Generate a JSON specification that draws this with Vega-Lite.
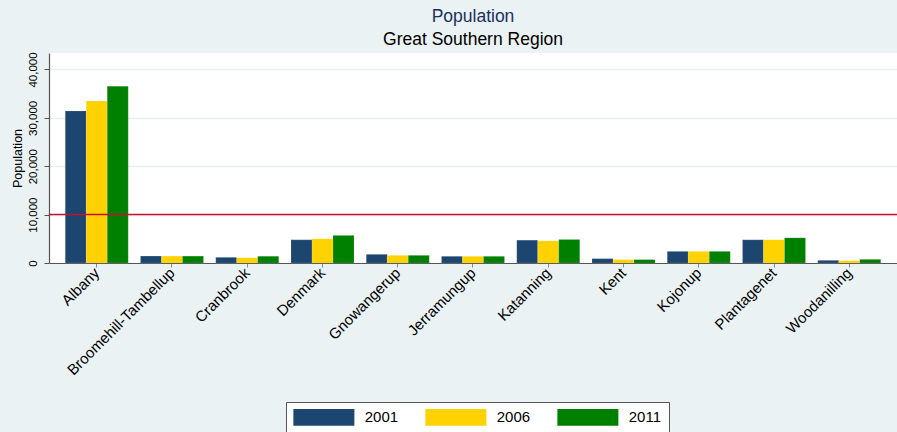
{
  "$schema": "https://vega.github.io/schema/vega-lite/v6.json",
  "width": 848,
  "height": 210,
  "autosize": "none",
  "padding": {"left": 49, "top": 53, "right": 0, "bottom": 169},
  "background": "#eaf2f3",
  "title": {
    "text": "Population",
    "subtitle": "Great Southern Region",
    "anchor": "middle",
    "font": "Liberation Sans",
    "subtitleFont": "Liberation Sans",
    "fontSize": 17.5,
    "subtitleFontSize": 17.5,
    "fontWeight": "normal",
    "color": "#1a2f5e",
    "subtitleColor": "#000000",
    "offset": 3,
    "subtitlePadding": 6
  },
  "config": {
    "font": "Liberation Sans",
    "view": {"fill": "white", "stroke": null}
  },
  "data": {
    "values": [
      {"lga": "Albany", "year": "2001", "pop": 31400},
      {"lga": "Albany", "year": "2006", "pop": 33500},
      {"lga": "Albany", "year": "2011", "pop": 36550},
      {"lga": "Broomehill-Tambellup", "year": "2001", "pop": 1440},
      {"lga": "Broomehill-Tambellup", "year": "2006", "pop": 1420},
      {"lga": "Broomehill-Tambellup", "year": "2011", "pop": 1420},
      {"lga": "Cranbrook", "year": "2001", "pop": 1170},
      {"lga": "Cranbrook", "year": "2006", "pop": 1100},
      {"lga": "Cranbrook", "year": "2011", "pop": 1380},
      {"lga": "Denmark", "year": "2001", "pop": 4800},
      {"lga": "Denmark", "year": "2006", "pop": 5000},
      {"lga": "Denmark", "year": "2011", "pop": 5700},
      {"lga": "Gnowangerup", "year": "2001", "pop": 1790},
      {"lga": "Gnowangerup", "year": "2006", "pop": 1580},
      {"lga": "Gnowangerup", "year": "2011", "pop": 1580},
      {"lga": "Jerramungup", "year": "2001", "pop": 1380},
      {"lga": "Jerramungup", "year": "2006", "pop": 1380},
      {"lga": "Jerramungup", "year": "2011", "pop": 1380},
      {"lga": "Katanning", "year": "2001", "pop": 4720},
      {"lga": "Katanning", "year": "2006", "pop": 4580},
      {"lga": "Katanning", "year": "2011", "pop": 4860},
      {"lga": "Kent", "year": "2001", "pop": 900},
      {"lga": "Kent", "year": "2006", "pop": 700},
      {"lga": "Kent", "year": "2011", "pop": 700},
      {"lga": "Kojonup", "year": "2001", "pop": 2400},
      {"lga": "Kojonup", "year": "2006", "pop": 2400},
      {"lga": "Kojonup", "year": "2011", "pop": 2400},
      {"lga": "Plantagenet", "year": "2001", "pop": 4800},
      {"lga": "Plantagenet", "year": "2006", "pop": 4800},
      {"lga": "Plantagenet", "year": "2011", "pop": 5200},
      {"lga": "Woodanilling", "year": "2001", "pop": 550},
      {"lga": "Woodanilling", "year": "2006", "pop": 480},
      {"lga": "Woodanilling", "year": "2011", "pop": 750}
    ]
  },
  "layer": [
    {
      "mark": {"type": "bar", "stroke": "#ffffff", "strokeWidth": 0.3, "strokeOpacity": 0.4},
      "encoding": {
        "x": {
          "field": "lga",
          "type": "nominal",
          "sort": null,
          "scale": {"paddingInner": 0.163, "paddingOuter": 0.216},
          "axis": {
            "title": null,
            "labelAngle": -45,
            "labelAlign": "right",
            "labelBaseline": "middle",
            "labelFontSize": 15,
            "labelColor": "#000000",
            "labelPadding": 3,
            "tickSize": 4,
            "tickColor": "#888888",
            "domainColor": "#555555",
            "domainWidth": 1.2
          }
        },
        "xOffset": {"field": "year", "type": "nominal"},
        "y": {
          "field": "pop",
          "type": "quantitative",
          "scale": {"domain": [0, 43400], "nice": false, "zero": true},
          "axis": {
            "title": "Population",
            "titleFontSize": 12.5,
            "titleFontWeight": "normal",
            "titleColor": "#000000",
            "titlePadding": 3,
            "values": [0, 10000, 20000, 30000, 40000],
            "format": ",.0f",
            "labelAngle": -90,
            "labelAlign": "center",
            "labelBaseline": "bottom",
            "labelFontSize": 11.5,
            "labelColor": "#000000",
            "labelPadding": 6,
            "tickSize": 5,
            "tickColor": "#555555",
            "domainColor": "#555555",
            "domainWidth": 1.2,
            "grid": true,
            "gridColor": "#e6eff0",
            "gridWidth": 1.5
          }
        },
        "color": {
          "field": "year",
          "type": "nominal",
          "scale": {"domain": ["2001", "2006", "2011"], "range": ["#1c4670", "#ffd200", "#008000"]},
          "legend": {
            "title": null,
            "orient": "none",
            "legendX": 237,
            "legendY": 349,
            "direction": "horizontal",
            "fillColor": "#ffffff",
            "strokeColor": "#555555",
            "padding": 7,
            "symbolType": "M-1,-1.1H7V1.1H-1Z",
            "symbolSize": 232.6,
            "symbolStrokeWidth": 0,
            "symbolOpacity": 1,
            "labelFontSize": 15,
            "labelColor": "#000000",
            "labelOffset": 55.75,
            "columnPadding": 26
          }
        }
      }
    },
    {
      "data": {"values": [{"threshold": 10000}]},
      "mark": {"type": "rule", "color": "#c8102e", "strokeWidth": 1.5},
      "encoding": {
        "y": {"field": "threshold", "type": "quantitative"}
      }
    }
  ]
}
